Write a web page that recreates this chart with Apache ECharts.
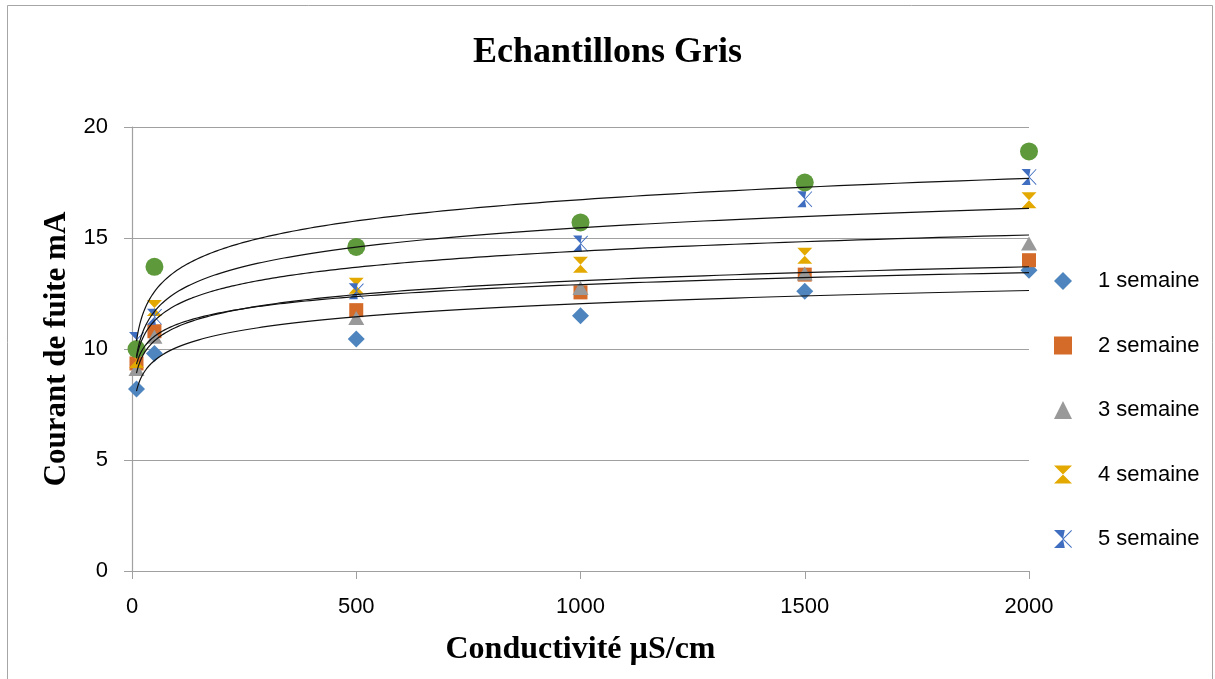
<!DOCTYPE html>
<html>
<head>
<meta charset="utf-8">
<script src="https://cdn.jsdelivr.net/npm/echarts@6/dist/echarts.min.js"></script>
<style>html,body{margin:0;padding:0;background:#fff}#c{width:1215px;height:679px}</style>
</head>
<body>
<div id="c"></div>
<script>
const conductivity = [10, 50, 500, 1000, 1500, 2000];
const week1 = [8.2, 9.8, 10.45, 11.5, 12.6, 13.55];
const week2 = [9.35, 10.8, 11.75, 12.55, 13.35, 14.0];
const week3 = [9.1, 10.55, 11.4, 12.75, 13.4, 14.75];
const week4 = [9.5, 11.85, 12.85, 13.8, 14.2, 16.7];
const week5 = [10.4, 11.45, 12.6, 14.75, 16.75, 17.75];
const week6 = [10.0, 13.7, 14.6, 15.7, 17.5, 18.9];
const seriesNames = ['1 semaine', '2 semaine', '3 semaine', '4 semaine', '5 semaine', '6 semaine'];
const xTicks = [0, 500, 1000, 1500, 2000];
const yTicks = [0, 5, 10, 15, 20];

const allWeeks = [week1, week2, week3, week4, week5, week6];
const colors = ['#4E85BF', '#D46B29', '#999999', '#E4A900', '#3F6DBF', '#5E9A3B'];
const hourglass = 'path://M0,0 L10,0 L5,5 Z M0,10 L10,10 L5,5 Z';
const starX = 'path://M0,0 L6,0 L5,5 Z M0,10 L6,10 L5,5 Z M4.6,5 L9.6,0 L10,0.4 L5.4,5 L10,9.6 L9.6,10 Z';
const symbols = ['diamond', 'rect', 'triangle', hourglass, starX, 'circle'];
const sizes = [[17,17], [14,14], [16,14], [15,16], [15,16], [18,18]];

// Excel-style logarithmic trendline y = a ln(x) + b fitted from the data
function logFit(xs, ys) {
  const lx = xs.map(Math.log);
  const n = xs.length;
  const mx = lx.reduce((s, v) => s + v, 0) / n;
  const my = ys.reduce((s, v) => s + v, 0) / n;
  let sxy = 0, sxx = 0;
  for (let i = 0; i < n; i++) { sxy += (lx[i] - mx) * (ys[i] - my); sxx += (lx[i] - mx) * (lx[i] - mx); }
  const a = sxy / sxx;
  const b = my - a * mx;
  const pts = [];
  const x0 = xs[0], x1 = xs[xs.length - 1];
  const N = 200;
  for (let k = 0; k <= N; k++) {
    const x = x0 * Math.pow(x1 / x0, k / N);
    pts.push([x, a * Math.log(x) + b]);
  }
  return pts;
}

const series = [];
allWeeks.forEach((w, i) => {
  series.push({
    name: seriesNames[i],
    type: 'scatter',
    symbol: symbols[i],
    symbolSize: sizes[i],
    itemStyle: { color: colors[i], opacity: 1 },
    z: 3,
    data: conductivity.map((x, j) => [x, w[j]])
  });
});
allWeeks.forEach((w, i) => {
  series.push({
    name: 'trend' + i,
    type: 'line',
    showSymbol: false,
    symbol: 'none',
    silent: true,
    z: 4,
    lineStyle: { color: '#111', width: 1.2 },
    data: logFit(conductivity, w)
  });
});

const chart = echarts.init(document.getElementById('c'), null, { renderer: 'canvas' });
chart.setOption({
  animation: false,
  backgroundColor: '#fff',
  graphic: [{
    type: 'rect', shape: { x: 7.5, y: 5.5, width: 1205, height: 700 },
    style: { fill: 'none', stroke: '#A6A6A6', lineWidth: 1 }, silent: true
  }],
  title: {
    text: 'Echantillons Gris', left: 'center', top: 30,
    textStyle: { fontFamily: 'Liberation Serif', fontWeight: 'bold', fontSize: 36, color: '#000' }
  },
  grid: { left: 132, right: 186, top: 127, bottom: 108 },
  legend: {
    orient: 'vertical', left: 1049, top: 265, itemGap: 42.5,
    itemWidth: 18, itemHeight: 18,
    textStyle: { fontFamily: 'Liberation Sans', fontSize: 22, color: '#000', padding: [0, 0, 0, 21] },
    data: seriesNames.slice(0, 5).map((n, i) => ({ name: n, icon: symbols[i] }))
  },
  xAxis: {
    type: 'value', min: xTicks[0], max: xTicks[xTicks.length - 1], interval: 500,
    name: 'Conductivité µS/cm', nameLocation: 'middle', nameGap: 63,
    nameTextStyle: { fontFamily: 'Liberation Serif', fontWeight: 'bold', fontSize: 32, color: '#000' },
    axisLine: { show: true, onZero: false, lineStyle: { color: '#A0A0A0', width: 1.2 } },
    axisTick: { show: true, length: 8, lineStyle: { color: '#A0A0A0' } },
    axisLabel: { fontFamily: 'Liberation Sans', fontSize: 22, color: '#000', margin: 25, formatter: v => String(v) },
    splitLine: { show: false }
  },
  yAxis: {
    type: 'value', min: yTicks[0], max: yTicks[yTicks.length - 1], interval: 5,
    name: 'Courant de fuite mA', nameLocation: 'middle', nameGap: 51,
    nameTextStyle: { fontFamily: 'Liberation Serif', fontWeight: 'bold', fontSize: 31, color: '#000' },
    axisLine: { show: true, lineStyle: { color: '#A0A0A0', width: 1.2 } },
    axisTick: { show: true, length: 8, lineStyle: { color: '#A0A0A0' } },
    axisLabel: { fontFamily: 'Liberation Sans', fontSize: 22, color: '#000', margin: 24, formatter: v => String(v) },
    splitLine: { show: true, lineStyle: { color: '#A0A0A0', width: 1.2 } }
  },
  series: series
});
</script>
</body>
</html>
